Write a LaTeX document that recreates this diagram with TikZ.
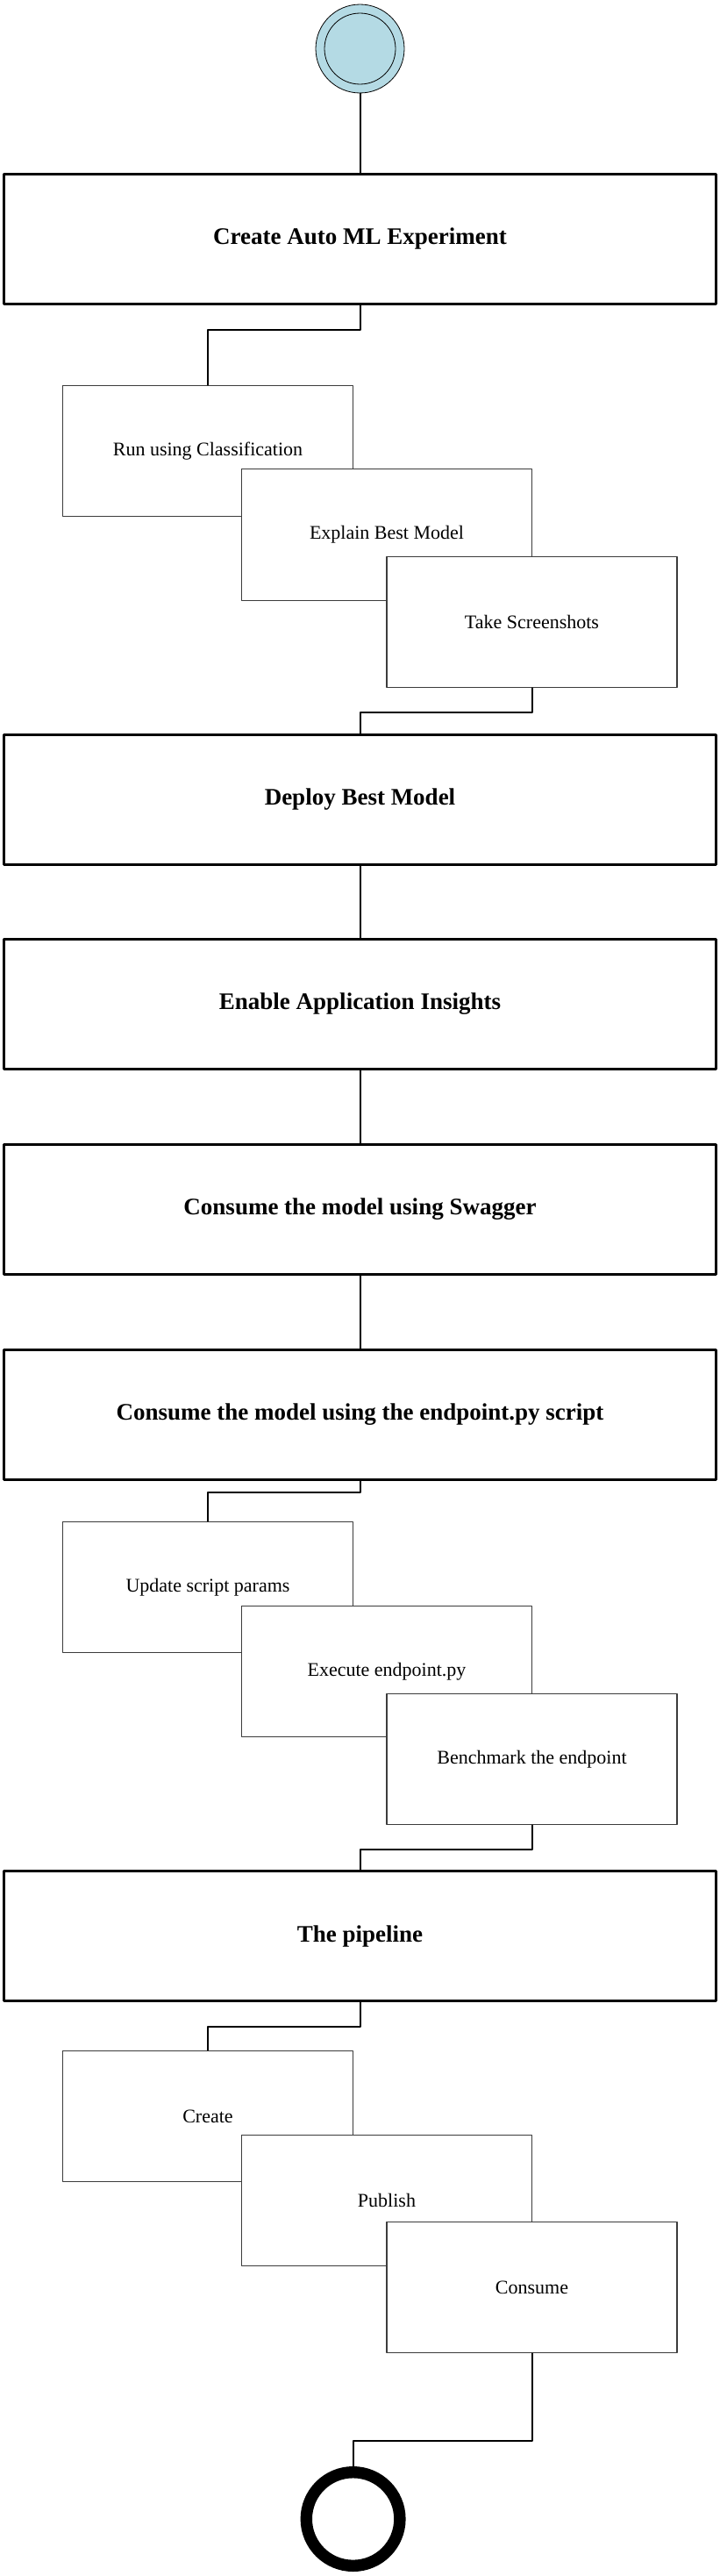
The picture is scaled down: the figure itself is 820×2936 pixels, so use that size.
\documentclass[tikz,border=0pt]{standalone}
\usepackage{fontspec}
\setmainfont{Liberation Serif}
\definecolor{startblue}{RGB}{180,218,228}
\definecolor{subline}{RGB}{60,60,60}
\begin{document}
\begin{tikzpicture}[x=1pt,y=-1pt, line join=round, line cap=round,
	bigbox/.style={draw, line width=3pt, minimum width=812pt, minimum height=148pt, inner sep=0pt, font=\fontsize{27}{30}\selectfont\bfseries},
	subbox/.style={draw=subline, fill=white, line width=1.2pt, minimum width=331pt, minimum height=149.5pt, inner sep=0pt, font=\fontsize{22}{26}\selectfont},
	link/.style={line width=2pt}]
	\useasboundingbox (0,0) rectangle (820,2936);
	% start and end
	\node[circle, draw, fill=startblue, line width=0.8pt, minimum size=101pt, inner sep=0pt] (start) at (410.5,55.5) {};
	\node[circle, draw, line width=0.8pt, minimum size=81pt, inner sep=0pt] (startin) at (start) {};
	\node[circle, draw, line width=13.4pt, minimum size=106.6pt, inner sep=0pt] (stop) at (402.6,2871) {};
	% main steps
	\node[bigbox] (b1) at (410.5,272.5) {Create Auto ML Experiment};
	\node[bigbox] (b2) at (410.5,911) {Deploy Best Model};
	\node[bigbox] (b3) at (410.5,1144.5) {Enable Application Insights};
	\node[bigbox] (b4) at (410.5,1378.5) {Consume the model using Swagger};
	\node[bigbox] (b5) at (410.5,1612) {Consume the model using the endpoint.py script};
	\node[bigbox] (b6) at (410.5,2206.5) {The pipeline};
	% sub steps
	\node[subbox] (s1) at (237,514) {Run using Classification};
	\node[subbox] (s2) at (441,609.5) {Explain Best Model};
	\node[subbox] (s3) at (606.5,709) {Take Screenshots};
	\node[subbox] (t1) at (237,1809) {Update script params};
	\node[subbox] (t2) at (441,1905) {Execute endpoint.py};
	\node[subbox] (t3) at (606.5,2005) {Benchmark the endpoint};
	\node[subbox] (p1) at (237,2412) {Create};
	\node[subbox] (p2) at (441,2508) {Publish};
	\node[subbox] (p3) at (606.5,2607) {Consume};
	% links
	\draw[link] (start)--(b1);
	\draw[link] (b1.south)--++(0,28)-|(s1.north);
	\draw[link] (s3.south)--++(0,28)-|(b2.north);
	\draw[link] (b2)--(b3);
	\draw[link] (b3)--(b4);
	\draw[link] (b4)--(b5);
	\draw[link] (b5.south)--++(0,13.5)-|(t1.north);
	\draw[link] (t3.south)--++(0,27.5)-|(b6.north);
	\draw[link] (b6.south)--++(0,28)-|(p1.north);
	\draw[link] (p3.south)--++(0,100)-|(stop.north);
\end{tikzpicture}
\end{document}
